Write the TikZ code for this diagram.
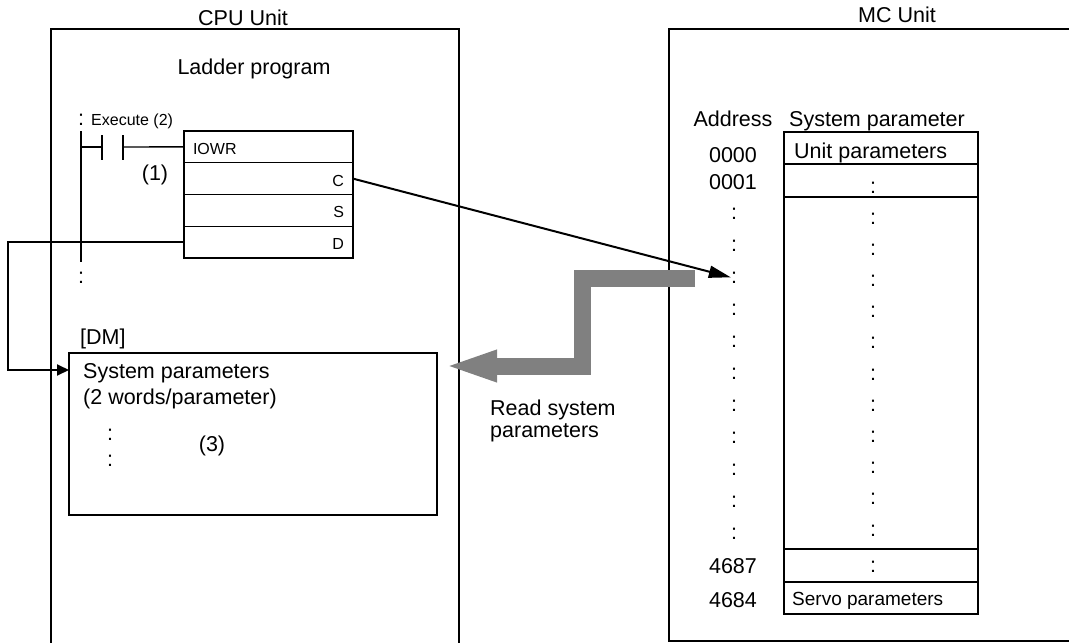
\documentclass[tikz,border=0pt]{standalone}
\usepackage{fontspec}
\setmainfont{Liberation Sans}
\usepackage{tikz}
\usetikzlibrary{arrows.meta,positioning}
\usepackage{xcolor}
\definecolor{readgray}{gray}{0.5}
\newcommand{\bigtxt}{\fontsize{21.5}{22}\selectfont}
\newcommand{\smalltxt}{\fontsize{16}{18}\selectfont}
\newcommand{\midtxt}{\fontsize{19}{21}\selectfont}

\tikzset{
    unitbox/.style={draw,line width=2.5pt,inner sep=0pt,outer sep=0pt,anchor=north west},
    cell/.style={draw,line width=1.4pt,inner sep=0pt,outer sep=0pt},
    iocell/.style={cell,minimum width=169pt,minimum height=31.75pt,text width=151pt,
        text height=15pt,text depth=0pt,font=\smalltxt},
    parcell/.style={cell,minimum width=194pt},
    txt/.style={inner sep=0pt,font=\bigtxt},
    wire/.style={line width=1.4pt},
}

\begin{document}
\begin{tikzpicture}[x=1pt,y=-1pt]
    \path[use as bounding box,clip] (0,0) rectangle (1069,643);

    % CPU Unit
    \node[unitbox,minimum width=408pt,minimum height=640pt] (cpu) at (51,29) {};
    \node[txt,anchor=base] (cputitle) at (243,25) {CPU Unit};
    \node[txt,anchor=base] (ladder) at (254,74) {Ladder program};

    % Ladder rung with execute contact
    \coordinate (railtop) at (81,131);
    \coordinate (railbot) at (81,262);
    \draw[wire] (railtop) -- (railbot);
    \node[txt,anchor=base] (railtopdots) at (81,125) {:};
    \node[txt,anchor=base] (railbotdots) at (81,283) {:};
    \node[txt,font=\smalltxt,anchor=base west] (exec) at (91,125) {Execute (2)};
    \coordinate (contl) at (102,147);
    \coordinate (contr) at (123,147);
    \draw[wire] (railtop |- contl) -- (contl);
    \draw[wire] (102,135) -- (102,160);
    \draw[wire] (123,135) -- (123,160);

    % IOWR instruction
    \node[iocell,anchor=north west] (iowr) at (184,131) {IOWR};
    \node[iocell,align=right,below=0pt of iowr] (rowc) {C};
    \node[iocell,align=right,below=0pt of rowc] (rows) {S};
    \node[iocell,align=right,below=0pt of rows] (rowd) {D};
    \draw[wire] (contr) -- (iowr.west);
    \node[txt,anchor=base] (one) at (155,180) {(1)};

    % DM area
    \node[cell,minimum width=368pt,minimum height=162pt,anchor=north west] (dm) at (69,353) {};
    \node[txt,anchor=base west] (dmtag) at (80,344) {[DM]};
    \node[txt,anchor=base west] (syspar) at (83,378) {System parameters};
    \node[txt,anchor=base west] (words) at (83,404) {(2 words/parameter)};
    \node[txt,anchor=base] (dmdots1) at (110,440) {:};
    \node[txt,anchor=base] (dmdots2) at (110,466) {:};
    \node[txt,anchor=base] (three) at (212,451) {(3)};

    % D operand to DM
    \coordinate (dturn) at (8,300);
    \coordinate (dmin) at ([yshift=-17pt]dm.north west);
    \draw[line width=2pt,-{Triangle[length=12pt,width=11pt]}] (rowd.west) -- (rowd.west -| dturn) |- (dmin);

    % MC Unit
    \node[unitbox,minimum width=420pt,minimum height=612pt] (mc) at (669,29) {};
    \node[txt,anchor=base] (mctitle) at (897,22) {MC Unit};
    \node[txt,anchor=base] (addr) at (733,126) {Address};
    \node[txt,anchor=base] (partitle) at (877,126) {System parameter};

    % System parameter table
    \node[parcell,minimum height=32pt,anchor=north west] (unitrow) at (784,132) {};
    \node[parcell,minimum height=33pt,below=0pt of unitrow] (row2) {};
    \node[parcell,minimum height=352pt,below=0pt of row2] (bigrow) {};
    \node[parcell,minimum height=33pt,below=0pt of bigrow] (lastrow) {};
    \node[parcell,minimum height=32pt,below=0pt of lastrow] (servorow) {};
    \node[txt,anchor=base west] (unitpar) at (794,158) {Unit parameters};
    \node[txt,anchor=base] (row2dots) at (873,193) {:};
    \foreach \i in {0,...,10}
        \node[txt,anchor=base] (pdots\i) at (873,{224+31.2*\i}) {:};
    \node[txt,anchor=base] (lastdots) at (873,572) {:};
    \node[txt,font=\midtxt,anchor=base west] (servo) at (792,605) {Servo parameters};

    % Addresses
    \node[txt,anchor=base] (a0000) at (733,162) {0000};
    \node[txt,anchor=base] (a0001) at (733,189) {0001};
    \foreach \i in {0,...,10}
        \node[txt,anchor=base] (adots\i) at (734,{219+32*\i}) {:};
    \node[txt,anchor=base] (a4687) at (733,573) {4687};
    \node[txt,anchor=base] (a4684) at (733,607) {4684};

    % C operand to MC address
    \draw[line width=2pt,-{Triangle[length=22pt,width=12pt]}] (rowc.east) -- (adots2.west);

    % Read system parameters
    \coordinate (rdsrc) at (695,278);
    \coordinate (rdbend) at (582,366);
    \coordinate (rdtip) at (443,366);
    \draw[line width=17pt,readgray,-{Triangle[length=54pt,width=28pt]}] (rdsrc) -| (rdbend) -- (rdtip);
    \node[txt,align=left,anchor=north west] (readlbl) at (490,400) {Read system\\parameters};
\end{tikzpicture}
\end{document}
